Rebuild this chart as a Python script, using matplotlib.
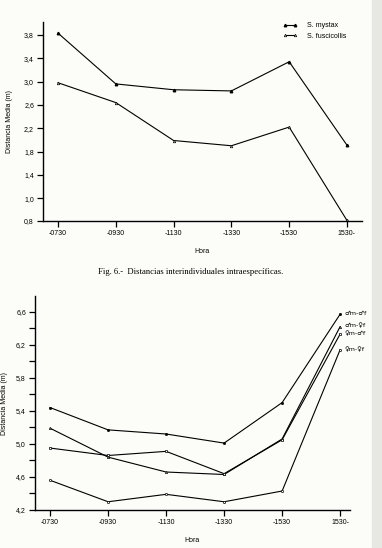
import matplotlib
matplotlib.use('Agg')
import matplotlib.pyplot as plt
from matplotlib.patches import Rectangle

plt.rcParams['font.family'] = ['Liberation Sans', 'DejaVu Sans']

# horas (eje x comun)
horas = ['-0730', '-0930', '-1130', '-1330', '-1530', '1530-']

# Fig. 6 - distancias intraespecificas
mystax = [3.83, 2.96, 2.86, 2.84, 3.34, 1.91]
fuscicollis = [2.98, 2.64, 1.99, 1.90, 2.22, 0.62]
ticks_sup = [0.61, 1.0, 1.4, 1.8, 2.2, 2.6, 3.0, 3.4, 3.8]
ticks_sup_lab = ['0,8', '1,0', '1,4', '1,8', '2,2', '2,6', '3,0', '3,4', '3,8']

# grafico inferior - por sexos
mm_mf = [5.44, 5.17, 5.12, 5.01, 5.50, 6.57]
mm_hf = [5.19, 4.84, 4.66, 4.63, 5.06, 6.42]
hm_mf = [4.95, 4.86, 4.91, 4.64, 5.05, 6.33]
hm_hf = [4.56, 4.30, 4.39, 4.30, 4.43, 6.14]
nombres_inf = ['\u2642m-\u2642f', '\u2642m-\u2640f', '\u2640m-\u2642f', '\u2640m-\u2640f']
ticks_inf = [4.2, 4.6, 5.0, 5.4, 5.8, 6.2, 6.6]
ticks_inf_lab = ['4,2', '4,6', '5,0', '5,4', '5,8', '6,2', '6,6']
ticks_inf_menor = [4.4, 4.8, 5.2, 5.6, 6.0, 6.4]

fondo = '#fcfcf9'
fig = plt.figure(figsize=(3.82, 5.48), dpi=100, facecolor=fondo)
# sombra del borde del escaneo
fig.patches.append(Rectangle((0.975, 0), 0.025, 1, transform=fig.transFigure,
                             color='#e8e8e3', zorder=-5))


def estilo(ax, xlab):
    ax.set_facecolor('none')
    for s in ['top', 'right']:
        ax.spines[s].set_visible(False)
    for s in ['left', 'bottom']:
        ax.spines[s].set_linewidth(1.0)
    ax.tick_params(axis='both', which='both', direction='out', length=4,
                   width=0.9, labelsize=5, pad=2.5)
    x = list(range(len(horas)))
    ax.set_xticks(x)
    ax.set_xticklabels(horas)
    ax.set_xlabel('Hora', fontsize=5, labelpad=8)
    ax.set_ylabel('Distancia Media (m)', fontsize=5)
    ax.yaxis.set_label_coords(xlab, 0.5)
    return x


# --- grafico superior ---
ax1 = fig.add_axes([0.1126, 0.5967, 0.835, 0.363])
x = estilo(ax1, -0.095)
ax1.plot(x, mystax, color='black', lw=0.8, marker='^', ms=1.8, label='S. mystax')
ax1.plot(x, fuscicollis, color='black', lw=0.8, marker='^', ms=1.8,
         mfc='white', mew=0.5, label='S. fuscicollis')
ax1.set_xlim(-0.26, 5.26)
ax1.set_ylim(0.61, 4.02)
ax1.set_yticks(ticks_sup)
ax1.set_yticklabels(ticks_sup_lab)
ax1.legend(loc='upper right', bbox_to_anchor=(0.97, 1.03), fontsize=5,
           frameon=False, numpoints=2, handlelength=2.0, labelspacing=0.5,
           handletextpad=1.4)

fig.text(0.50, 0.503, 'Fig. 6.-  Distancias interindividuales intraespecíficas.',
         ha='center', va='center', fontsize=6.2, family='Liberation Serif')

# --- grafico inferior ---
ax2 = fig.add_axes([0.0916, 0.0693, 0.8246, 0.3905])
x = estilo(ax2, -0.085)
marcas = ['o', '^', 's', 'o']
series = [mm_mf, mm_hf, hm_mf, hm_hf]
for i, (serie, nombre) in enumerate(zip(series, nombres_inf)):
    ax2.plot(x, serie, color='black', lw=0.8, marker=marcas[i], ms=1.6,
             mfc='black' if i == 0 else 'white', mew=0.5)
    ax2.annotate(nombre, (x[-1], serie[-1]), xytext=(3, 0.5),
                 textcoords='offset points', fontsize=4.6, va='center',
                 family=['DejaVu Sans'])
ax2.set_xlim(-0.26, 5.17)
ax2.set_ylim(4.2, 6.79)
ax2.set_yticks(ticks_inf)
ax2.set_yticklabels(ticks_inf_lab)
ax2.set_yticks(ticks_inf_menor, minor=True)

fig.savefig('out.png', dpi=100, facecolor=fondo)
